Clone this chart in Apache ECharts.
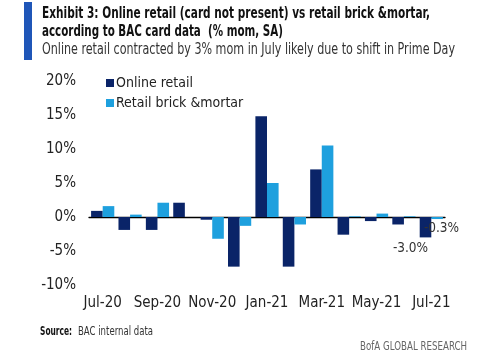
<!DOCTYPE html>
<html>
<head>
<meta charset="utf-8">
<script src="https://cdn.jsdelivr.net/npm/echarts@6/dist/echarts.min.js"></script>
<style>
html,body{margin:0;padding:0;background:#fff;}
#chart{width:500px;height:355px;}
</style>
</head>
<body>
<div id="chart"></div>
<script>
var categories = ['Jul-20','Aug-20','Sep-20','Oct-20','Nov-20','Dec-20','Jan-21','Feb-21','Mar-21','Apr-21','May-21','Jun-21','Jul-21'];
var onlineRetail = [0.9, -1.9, -1.9, 2.1, -0.4, -7.3, 14.8, -7.3, 7.0, -2.6, -0.6, -1.1, -3.0];
var brickMortar = [1.6, 0.35, 2.1, 0.0, -3.2, -1.3, 5.0, -1.1, 10.5, 0.1, 0.5, 0.1, -0.3];
var yTicks = [-10, -5, 0, 5, 10, 15, 20];

var FONT = '"DejaVu Sans Condensed","Liberation Sans",sans-serif';
var NAVY = '#0a2468';
var LIGHT = '#1ea0de';
var last = categories.length - 1;

var measureCtx = document.createElement('canvas').getContext('2d');
function fitText(text, font, x, y, targetWidth, fill) {
  measureCtx.font = font;
  var w = measureCtx.measureText(text).width;
  return {
    type: 'text', x: x, y: y, scaleX: targetWidth / w, scaleY: 1,
    style: {text: text, font: font, fill: fill, x: 0, y: 0, textVerticalAlign: 'top'}
  };
}

var chart = echarts.init(document.getElementById('chart'), null, {renderer: 'canvas'});

chart.setOption({
  animation: false,
  backgroundColor: '#fff',
  textStyle: {fontFamily: FONT},
  grid: {left: 89, right: 55, top: 81, bottom: 70, containLabel: false},
  legend: {
    orient: 'vertical',
    left: 101,
    top: 71,
    itemWidth: 8,
    itemHeight: 8,
    itemGap: 6,
    icon: 'rect',
    textStyle: {fontFamily: FONT, fontSize: 14, color: '#222', padding: [0, 0, 0, -3]},
    data: ['Online retail', 'Retail brick &mortar']
  },
  xAxis: {
    type: 'category',
    data: categories,
    axisLine: {show: true, onZero: true, lineStyle: {color: '#000', width: 1.3}},
    axisTick: {show: false},
    axisLabel: {
      interval: 1,
      fontFamily: FONT,
      fontSize: 15,
      color: '#222',
      margin: 11
    },
    position: 'bottom'
  },
  yAxis: {
    type: 'value',
    min: yTicks[0],
    max: yTicks[yTicks.length - 1],
    interval: 5,
    splitLine: {show: false},
    axisLine: {show: false},
    axisTick: {show: false},
    axisLabel: {
      fontFamily: FONT,
      fontSize: 15,
      color: '#222',
      margin: 13,
      formatter: function (v) { return v + '%'; }
    }
  },
  series: [
    {
      name: 'Online retail',
      type: 'bar',
      data: onlineRetail.map(function (v, i) {
        var d = {value: v};
        if (i === last) {
          d.label = {
            show: true, position: 'bottom', distance: 4, offset: [-15, 0],
            formatter: v.toFixed(1) + '%', fontFamily: FONT, fontSize: 13.5, color: '#333'
          };
        }
        return d;
      }),
      itemStyle: {color: NAVY},
      barWidth: 11.6,
      barGap: '0%'
    },
    {
      name: 'Retail brick &mortar',
      type: 'bar',
      data: brickMortar.map(function (v, i) {
        var d = {value: v};
        if (i === last) {
          d.label = {
            show: true, position: 'right', distance: 0, offset: [-19, 10],
            formatter: v.toFixed(1) + '%', fontFamily: FONT, fontSize: 13.5, color: '#333'
          };
        }
        return d;
      }),
      itemStyle: {color: LIGHT},
      barWidth: 11.6,
      z: 3
    }
  ],
  graphic: [
    {type: 'rect', shape: {x: 24, y: 2, width: 8, height: 58}, style: {fill: '#1f56b8'}},
    fitText('Exhibit 3: Online retail (card not present) vs retail brick &mortar,', 'bold 16px ' + FONT, 42, 6, 388, '#111'),
    fitText('according to BAC card data  (% mom, SA)', 'bold 16px ' + FONT, 42, 24, 241, '#111'),
    fitText('Online retail contracted by 3% mom in July likely due to shift in Prime Day', '16px ' + FONT, 42, 42, 413, '#333'),
    fitText('Source:', 'bold 12px ' + FONT, 40, 326, 32, '#111'),
    fitText('BAC internal data', '12px ' + FONT, 78, 326, 75, '#333'),
    fitText('BofA GLOBAL RESEARCH', '12px ' + FONT, 360, 341, 107, '#666')
  ]
});
</script>
</body>
</html>
